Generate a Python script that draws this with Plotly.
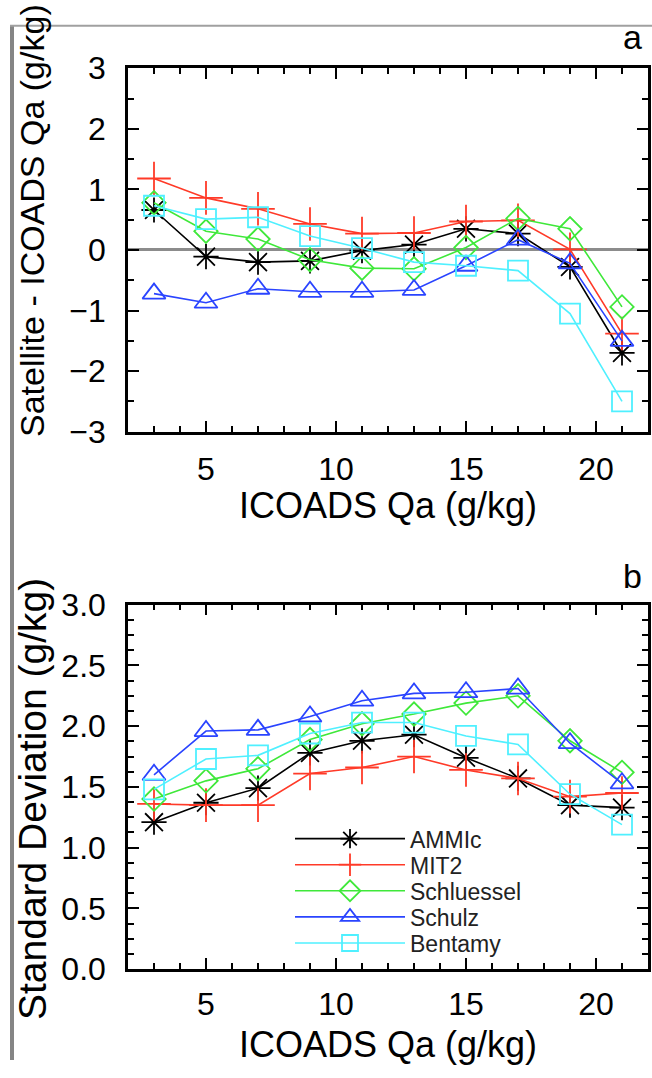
import plotly.graph_objects as go

# ---------------- data ----------------
qa = [3, 5, 7, 9, 11, 13, 15, 17, 19, 21]
series_names = ["AMMIc", "MIT2", "Schluessel", "Schulz", "Bentamy"]

# panel a: Satellite - ICOADS Qa (g/kg)
bias_ammic = [0.66, -0.11, -0.20, -0.18, -0.01, 0.09, 0.35, 0.27, -0.28, -1.70]
bias_mit2 = [1.18, 0.86, 0.68, 0.43, 0.27, 0.28, 0.47, 0.49, 0.01, -1.38]
bias_schluessel = [0.78, 0.31, 0.18, -0.16, -0.30, -0.31, 0.04, 0.52, 0.35, -0.94]
bias_schulz = [-0.72, -0.87, -0.64, -0.69, -0.69, -0.66, -0.26, 0.17, -0.22, -1.50]
bias_bentamy = [0.73, 0.51, 0.54, 0.23, 0.03, -0.20, -0.26, -0.34, -1.05, -2.50]

# panel b: Standard Deviation (g/kg)
std_ammic = [1.21, 1.37, 1.49, 1.78, 1.88, 1.93, 1.74, 1.57, 1.35, 1.33]
std_mit2 = [1.36, 1.35, 1.35, 1.61, 1.66, 1.75, 1.64, 1.57, 1.42, 1.45]
std_schluessel = [1.40, 1.55, 1.65, 1.89, 2.02, 2.10, 2.19, 2.25, 1.88, 1.62]
std_schulz = [1.60, 1.96, 1.97, 2.08, 2.21, 2.27, 2.28, 2.31, 1.86, 1.53]
std_bentamy = [1.48, 1.73, 1.76, 1.94, 2.03, 2.03, 1.92, 1.85, 1.44, 1.19]

bias_all = [bias_ammic, bias_mit2, bias_schluessel, bias_schulz, bias_bentamy]
std_all = [std_ammic, std_mit2, std_schluessel, std_schulz, std_bentamy]

x_ticks = [5, 10, 15, 20]
ya_ticks = [-3, -2, -1, 0, 1, 2, 3]
yb_ticks = [0.0, 0.5, 1.0, 1.5, 2.0, 2.5, 3.0]

# ---------------- styles ----------------
colors = ["#000000", "#ff3a28", "#3fe83a", "#2a44ff", "#4ff0ff"]
symbols = ["asterisk-open", "cross-thin-open", "diamond-open", "triangle-up-open", "square-open"]
msizes = [21, 24, 18, 20, 20]
FONT = "Liberation Sans, Arial, Helvetica, sans-serif"

W, H = 652, 1078


def px_x(p):
    return p / W


def px_y(p):
    return 1 - p / H


legend_ids = ["legend", "legend2", "legend3", "legend4", "legend5"]
legend_rows = [849, 876, 903, 930, 957]

fig = go.Figure()

for i, name in enumerate(series_names):
    common = dict(
        mode="lines+markers",
        line=dict(color=colors[i], width=1.6),
        marker=dict(symbol=symbols[i], size=msizes[i], color=colors[i],
                    line=dict(color=colors[i], width=1.8)),
    )
    fig.add_trace(go.Scatter(x=qa, y=bias_all[i], name=name, showlegend=False,
                             xaxis="x", yaxis="y", **common))
    fig.add_trace(go.Scatter(x=qa, y=std_all[i], name=name, showlegend=True,
                             legend=legend_ids[i], xaxis="x2", yaxis="y2", **common))

axis_common = dict(
    showline=True, linecolor="black", linewidth=2.5, mirror="ticks",
    ticks="inside", ticklen=11, tickwidth=2, tickcolor="black",
    showgrid=False,
    tickfont=dict(family=FONT, size=32, color="black"),
)

x_dom = [px_x(128), px_x(648)]
ya_dom = [px_y(428), px_y(52)]
yb_dom = [px_y(984), px_y(607)]

layout = dict(
    width=W, height=H,
    margin=dict(l=0, r=0, t=0, b=0),
    paper_bgcolor="white", plot_bgcolor="white",
    showlegend=True,
    xaxis=dict(domain=x_dom, anchor="y", range=[2, 22], tickvals=x_ticks, zeroline=False,
               minor=dict(ticks="inside", ticklen=6, tickwidth=1.5, dtick=1, tickcolor="black"),
               ticklabelstandoff=7, **axis_common),
    yaxis=dict(domain=ya_dom, anchor="x", range=[-3, 3], tickvals=ya_ticks,
               minor=dict(ticks="inside", ticklen=6, tickwidth=1.5, dtick=0.5, tickcolor="black"),
               ticklabelstandoff=13, zeroline=True, zerolinecolor="#8c8c8c", zerolinewidth=3,
               **axis_common),
    xaxis2=dict(domain=x_dom, anchor="y2", range=[2, 22], tickvals=x_ticks, zeroline=False,
                minor=dict(ticks="inside", ticklen=6, tickwidth=1.5, dtick=1, tickcolor="black"),
                ticklabelstandoff=5, **axis_common),
    yaxis2=dict(domain=yb_dom, anchor="x2", range=[0, 3], tickvals=yb_ticks, zeroline=False,
                tickformat=".1f",
                minor=dict(ticks="inside", ticklen=6, tickwidth=1.5, dtick=0.125, tickcolor="black"),
                ticklabelstandoff=13, **axis_common),
)

for lid, row in zip(legend_ids, legend_rows):
    layout[lid] = dict(x=px_x(290), y=px_y(row), xanchor="left", yanchor="middle",
                       bgcolor="rgba(0,0,0,0)", borderwidth=0,
                       font=dict(family=FONT, size=23, color="#222"),
                       itemwidth=110)

fig.update_layout(**layout)

title_font = dict(family=FONT, size=36, color="black")
annotations = [
    dict(text="ICOADS Qa (g/kg)", x=px_x(388), y=px_y(504), xref="paper", yref="paper",
         showarrow=False, font=title_font, xanchor="center", yanchor="middle"),
    dict(text="ICOADS Qa (g/kg)", x=px_x(388), y=px_y(1062), xref="paper", yref="paper",
         showarrow=False, font=title_font, xanchor="center", yanchor="middle"),
    dict(text="Satellite - ICOADS Qa (g/kg)", x=px_x(32), y=px_y(210), xref="paper", yref="paper",
         showarrow=False, font=dict(family=FONT, size=34, color="black"), textangle=-90,
         xanchor="center", yanchor="middle"),
    dict(text="Standard Deviation (g/kg)", x=px_x(32), y=px_y(808), xref="paper", yref="paper",
         showarrow=False, font=dict(family=FONT, size=39, color="black"), textangle=-90,
         xanchor="center", yanchor="middle"),
    dict(text="a", x=px_x(632), y=px_y(20), xref="paper", yref="paper",
         showarrow=False, font=dict(family=FONT, size=34, color="black"),
         xanchor="center", yanchor="middle"),
    dict(text="b", x=px_x(632), y=px_y(577), xref="paper", yref="paper",
         showarrow=False, font=dict(family=FONT, size=34, color="black"),
         xanchor="center", yanchor="middle"),
]
fig.update_layout(annotations=annotations)

# gray frame of the original figure page
shapes = [
    dict(type="line", xref="paper", yref="paper", x0=px_x(12), x1=px_x(12), y0=px_y(8), y1=0,
         line=dict(color="#858585", width=4)),
    dict(type="line", xref="paper", yref="paper", x0=px_x(10), x1=1, y0=px_y(8), y1=px_y(8),
         line=dict(color="#a0a0a0", width=2)),
]
fig.update_layout(shapes=shapes)

fig.write_html("out.html")
